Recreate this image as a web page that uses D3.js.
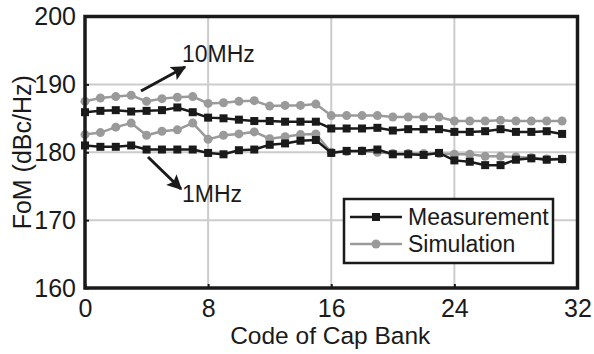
<!DOCTYPE html>
<meta charset="utf-8">
<html lang="en">
<head>
<script src="https://d3js.org/d3.v7.min.js"></script>
<style>
  body { margin: 0; background: #fff; }
  text { font-family: "Liberation Sans", Arial, sans-serif; fill: #1a1a1a; }
</style>
</head>
<body>
<div id="chart"></div>
<script>
// x = code of cap bank (0..31)
var codes = d3.range(0, 32);
var xTicks = [0, 8, 16, 24, 32];
var yTicks = [160, 170, 180, 190, 200];

// measured / simulated FoM at 10MHz and 1MHz offset
var meas10 = [185.9, 186.1, 186.2, 186.0, 186.1, 186.2, 186.6, 185.9, 185.1, 185.0, 184.8, 184.6,
              184.6, 184.5, 184.5, 184.5, 183.5, 183.5, 183.5, 183.6, 183.2, 183.4, 183.4, 183.4,
              183.0, 183.0, 183.1, 183.4, 183.0, 183.0, 183.1, 182.7];
var sim10  = [187.5, 188.0, 188.2, 188.4, 187.5, 187.9, 188.1, 188.2, 187.2, 187.3, 187.5, 187.6,
              186.8, 186.9, 186.9, 187.1, 185.4, 185.4, 185.4, 185.4, 185.2, 185.2, 185.2, 185.2,
              184.6, 184.6, 184.6, 184.7, 184.6, 184.6, 184.6, 184.6];
var meas1  = [181.0, 180.8, 180.8, 181.0, 180.4, 180.4, 180.4, 180.4, 179.9, 179.7, 180.3, 180.4,
              181.1, 181.3, 181.7, 181.8, 179.9, 180.2, 180.2, 180.4, 179.7, 179.7, 179.6, 179.9,
              178.8, 178.6, 178.1, 178.1, 178.9, 179.1, 178.9, 179.0];
var sim1   = [182.6, 182.9, 183.7, 184.3, 182.5, 183.1, 183.3, 184.3, 181.9, 182.5, 182.7, 183.0,
              182.0, 182.3, 182.6, 182.7, 180.0, 180.1, 180.2, 180.0, 179.8, 179.8, 179.8, 179.8,
              179.7, 179.7, 179.4, 179.4, 179.3, 179.2, 179.0, 179.0];

var width = 594, height = 354;
var margin = {top: 16.5, right: 16.5, bottom: 66, left: 85};

var svg = d3.select("#chart").append("svg")
  .attr("width", width).attr("height", height);

var x = d3.scaleLinear().domain([0, 32]).range([margin.left, width - margin.right]);
var y = d3.scaleLinear().domain([160, 200]).range([height - margin.bottom, margin.top]);

var black = "#1a1a1a", grey = "#9a9a9a", gridc = "#cccccc";

// grid
svg.append("g").selectAll("line").data(xTicks.slice(1, -1)).enter().append("line")
  .attr("x1", d => x(d)).attr("x2", d => x(d))
  .attr("y1", y(160)).attr("y2", y(200))
  .attr("stroke", gridc).attr("stroke-width", 2);
svg.append("g").selectAll("line").data(yTicks.slice(1, -1)).enter().append("line")
  .attr("x1", x(0)).attr("x2", x(32))
  .attr("y1", d => y(d)).attr("y2", d => y(d))
  .attr("stroke", gridc).attr("stroke-width", 2);

// series
function drawSeries(vals, color, shape) {
  var line = d3.line().x((d, i) => x(codes[i])).y(d => y(d));
  svg.append("path").datum(vals)
    .attr("d", line).attr("fill", "none")
    .attr("stroke", color).attr("stroke-width", 2.5);
  var g = svg.append("g");
  if (shape == "circle") {
    g.selectAll("circle").data(vals).enter().append("circle")
      .attr("cx", (d, i) => x(codes[i])).attr("cy", d => y(d))
      .attr("r", 4.5).attr("fill", color);
  } else {
    g.selectAll("rect").data(vals).enter().append("rect")
      .attr("x", (d, i) => x(codes[i]) - 4).attr("y", d => y(d) - 4)
      .attr("width", 8).attr("height", 8).attr("fill", color);
  }
}
drawSeries(sim10, grey, "circle");
drawSeries(sim1, grey, "circle");
drawSeries(meas10, black, "rect");
drawSeries(meas1, black, "rect");

// axes (inward ticks)
var xAxis = d3.axisBottom(x).tickValues(xTicks).tickSize(-4).tickPadding(13);
var yAxis = d3.axisLeft(y).tickValues(yTicks).tickSize(-4).tickPadding(9);

var gx = svg.append("g").attr("transform", "translate(0," + y(160) + ")").call(xAxis);
var gy = svg.append("g").attr("transform", "translate(" + x(0) + ",0)").call(yAxis);
[gx, gy].forEach(function (g) {
  g.select(".domain").remove();
  g.selectAll("line").attr("stroke", black).attr("stroke-width", 2);
  g.selectAll("text").style("font-size", "25px").attr("fill", black)
    .style("font-family", '"Liberation Sans", Arial, sans-serif');
});
gx.selectAll("text").attr("dy", "0.64em");

// frame
svg.append("rect")
  .attr("x", x(0)).attr("y", y(200))
  .attr("width", x(32) - x(0)).attr("height", y(160) - y(200))
  .attr("fill", "none").attr("stroke", black).attr("stroke-width", 3.5);

// axis labels
svg.append("text")
  .attr("x", (x(0) + x(32)) / 2 - 1).attr("y", 344)
  .attr("text-anchor", "middle").style("font-size", "24.5px")
  .text("Code of Cap Bank");
svg.append("text")
  .attr("transform", "translate(31," + ((y(200) + y(160)) / 2) + ") rotate(-90)")
  .attr("text-anchor", "middle").style("font-size", "25px")
  .text("FoM (dBc/Hz)");

// annotations
svg.append("defs").append("marker")
  .attr("id", "arrow").attr("viewBox", "0 0 10 10")
  .attr("refX", 9).attr("refY", 5)
  .attr("markerWidth", 5.5).attr("markerHeight", 5)
  .attr("markerUnits", "strokeWidth")
  .attr("orient", "auto")
  .append("path").attr("d", "M0,0 L10,5 L0,10 L2,5 z").attr("fill", black);

svg.append("line")
  .attr("x1", 141).attr("y1", 91).attr("x2", 185).attr("y2", 67)
  .attr("stroke", black).attr("stroke-width", 3).attr("marker-end", "url(#arrow)");
svg.append("text").attr("x", 182).attr("y", 62).style("font-size", "23px").text("10MHz");

svg.append("line")
  .attr("x1", 148).attr("y1", 157).attr("x2", 181).attr("y2", 189)
  .attr("stroke", black).attr("stroke-width", 3).attr("marker-end", "url(#arrow)");
svg.append("text").attr("x", 182).attr("y", 202).style("font-size", "23px").text("1MHz");

// legend
var leg = svg.append("g");
leg.append("rect")
  .attr("x", 344).attr("y", 199).attr("width", 209).attr("height", 64)
  .attr("fill", "#fff").attr("stroke", black).attr("stroke-width", 2.5);
var legItems = [
  {name: "Measurement", color: black, shape: "rect", yy: 217},
  {name: "Simulation", color: grey, shape: "circle", yy: 244}
];
legItems.forEach(function (it) {
  leg.append("line").attr("x1", 350).attr("x2", 402)
    .attr("y1", it.yy).attr("y2", it.yy)
    .attr("stroke", it.color).attr("stroke-width", 2.5);
  if (it.shape == "rect") {
    leg.append("rect").attr("x", 372).attr("y", it.yy - 4).attr("width", 8).attr("height", 8).attr("fill", it.color);
  } else {
    leg.append("circle").attr("cx", 376).attr("cy", it.yy).attr("r", 4.5).attr("fill", it.color);
  }
  leg.append("text").attr("x", 408).attr("y", it.yy + 8)
    .style("font-size", "23px").text(it.name);
});
</script>
</body>
</html>
